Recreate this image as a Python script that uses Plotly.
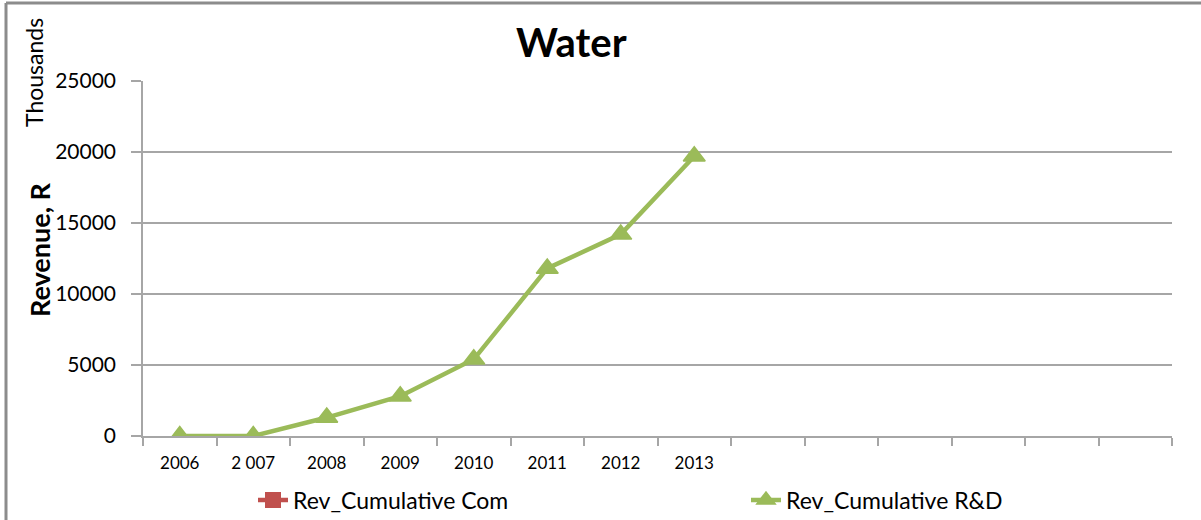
import plotly.graph_objects as go

# ---- data ----
categories = ["2006", "2 007", "2008", "2009", "2010", "2011", "2012", "2013",
              "", "", "", "", "", ""]
rev_cum_com = [None] * 8
rev_cum_rd = [0, 0, 1300, 2800, 5400, 11800, 14200, 19700]
y_ticks = [0, 5000, 10000, 15000, 20000, 25000]

FONT = "Lato"
GRID = "#a6a6a6"

n = len(categories)
xpos = list(range(n))

fig = go.Figure()
fig.add_trace(go.Scatter(
    x=xpos[:len(rev_cum_com)], y=rev_cum_com, name="Rev_Cumulative Com",
    mode="lines+markers", legend="legend",
    line=dict(color="#C0504D", width=4.5),
    marker=dict(symbol="square", size=16, color="#C0504D"),
))
fig.add_trace(go.Scatter(
    x=xpos[:len(rev_cum_rd)], y=rev_cum_rd, name="Rev_Cumulative R&D",
    mode="lines+markers", legend="legend2",
    line=dict(color="#9BBB59", width=4.5),
    marker=dict(symbol="triangle-up", size=19, color="#9BBB59",
                line=dict(color="#9BBB59", width=1.5)),
))

W, H = 1201, 520
L, R, T, B = 143, 29, 81, 84
pw, ph = W - L - R, H - T - B


def px(xp):
    return (xp - L) / pw


def py(yp):
    return (H - B - yp) / ph


legend_common = dict(
    orientation="h", yanchor="middle", xanchor="left",
    font=dict(family=FONT, size=23, color="#000000"),
    bgcolor="rgba(0,0,0,0)", borderwidth=0,
)

fig.update_layout(
    width=W, height=H,
    margin=dict(l=L, r=R, t=T, b=B, autoexpand=False),
    paper_bgcolor="white", plot_bgcolor="white",
    font=dict(family=FONT, color="#000000"),
    showlegend=True,
    legend=dict(x=px(253), y=py(500), **legend_common),
    legend2=dict(x=px(746), y=py(500), **legend_common),
    xaxis=dict(
        range=[-0.5, n - 0.5],
        tickmode="array", tickvals=xpos, ticktext=categories,
        ticks="", showgrid=False, zeroline=False,
        showline=True, linecolor=GRID, linewidth=1.5,
        tickfont=dict(family=FONT, size=17, color="#000000"),
        ticklabelstandoff=11,
        minor=dict(tickmode="array", tickvals=[i - 0.5 for i in range(n + 1)],
                   ticks="outside", ticklen=8, tickcolor=GRID, tickwidth=1.5,
                   showgrid=False),
        fixedrange=True,
    ),
    yaxis=dict(
        range=[0, 25000], tickmode="array", tickvals=y_ticks,
        ticktext=[str(v) for v in y_ticks],
        ticks="outside", ticklen=10, tickcolor=GRID, tickwidth=1.5,
        showgrid=True, gridcolor=GRID, gridwidth=1.5,
        showline=True, linecolor=GRID, linewidth=1.5, zeroline=False,
        tickfont=dict(family=FONT, size=21, color="#000000"),
        ticklabelstandoff=11,
        fixedrange=True,
    ),
    annotations=[
        dict(text="<b>Water</b>", x=px(571), y=py(42), xref="paper", yref="paper",
             showarrow=False, font=dict(family=FONT, size=40, color="#000000"),
             xanchor="center", yanchor="middle"),
        dict(text="<b>Revenue, R</b>", x=px(39), y=py(250), xref="paper", yref="paper",
             showarrow=False, textangle=-90,
             font=dict(family=FONT, size=27, color="#000000"),
             xanchor="center", yanchor="middle"),
        dict(text="Thousands", x=px(34), y=py(73), xref="paper", yref="paper",
             showarrow=False, textangle=-90,
             font=dict(family=FONT, size=23, color="#000000"),
             xanchor="center", yanchor="middle"),
    ],
    shapes=[
        dict(type="line", xref="paper", yref="paper", x0=px(6), x1=px(W + 5),
             y0=py(3), y1=py(3), line=dict(color="#8c8c8c", width=3)),
        dict(type="line", xref="paper", yref="paper", x0=px(6), x1=px(6),
             y0=py(3), y1=py(H + 5), line=dict(color="#8c8c8c", width=3)),
    ],
)

fig.write_html(
    "out.html",
    config={"displayModeBar": False},
    post_script="document.body.style.margin='0px';document.body.style.overflow='hidden';",
)
